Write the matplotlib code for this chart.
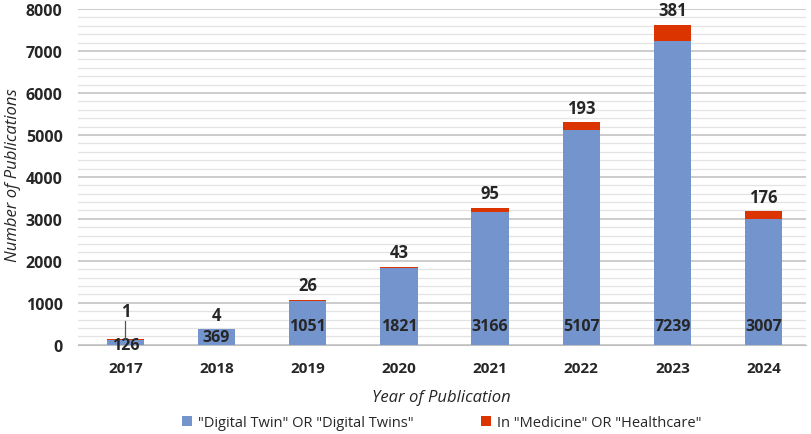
import matplotlib

matplotlib.use("Agg")
import matplotlib.pyplot as plt
from matplotlib.ticker import MultipleLocator

years = ["2017", "2018", "2019", "2020", "2021", "2022", "2023", "2024"]
digital_twin = [126, 369, 1051, 1821, 3166, 5107, 7239, 3007]
medicine = [1, 4, 26, 43, 95, 193, 381, 176]

BLUE = "#7494CD"
RED = "#DB3400"
INK = "#262626"
FONT = ["Open Sans", "DejaVu Sans"]

plt.rcParams["font.family"] = FONT

fig = plt.figure(figsize=(8.12, 4.35), dpi=100)
ax = fig.add_axes([0.096, 0.205, 0.896, 0.772])

x = list(range(len(years)))
ax.bar(x, digital_twin, width=0.41, color=BLUE, zorder=3,
       label='"Digital Twin" OR "Digital Twins"')
ax.bar(x, medicine, width=0.41, bottom=digital_twin, color=RED, zorder=3,
       label='In "Medicine" OR "Healthcare"')

# value labels: base series inside the bar, top series above it
for i, (dt, med) in enumerate(zip(digital_twin, medicine)):
    ax.text(i, min(dt / 2, 450) if i else 0, str(dt), ha="center", va="center",
            fontsize=11.5, fontweight="bold", color=INK, zorder=4)
    top = dt + med
    if i == 0:
        # tiny bar: label lifted with a leader line
        ax.plot([i, i], [top + 20, 560], color="#555555", lw=0.9, zorder=4)
        ax.text(i, 810, str(med), ha="center", va="center", fontsize=12,
                fontweight="bold", color=INK)
    else:
        ax.annotate(str(med), (i, top), xytext=(0, 4), textcoords="offset points",
                    ha="center", va="bottom", fontsize=12, fontweight="bold",
                    color=INK)

ax.set_xlim(-0.52, 7.46)
ax.set_ylim(0, 8000)
ax.yaxis.set_major_locator(MultipleLocator(1000))
ax.yaxis.set_minor_locator(MultipleLocator(200))
ax.grid(axis="y", which="major", color="#BFBFBF", lw=1.1, zorder=0)
ax.grid(axis="y", which="minor", color="#E3E3E3", lw=0.9, zorder=0)

ax.set_xticks(x)
ax.set_xticklabels(years, fontweight="bold", fontsize=11, color=INK)
for lbl in ax.get_yticklabels():
    lbl.set_fontweight("bold")
    lbl.set_fontsize(11.5)
    lbl.set_color(INK)
ax.tick_params(axis="both", which="both", length=0)
ax.tick_params(axis="x", pad=12)
ax.tick_params(axis="y", pad=11)

for side in ("top", "right", "left"):
    ax.spines[side].set_visible(False)
ax.spines["bottom"].set_color("#BFBFBF")

ax.set_xlabel("Year of Publication", fontstyle="italic", fontsize=12, color=INK)
ax.xaxis.set_label_coords(0.5, -0.155)
ax.xaxis.label.set_va("center")
ax.set_ylabel("Number of Publications", fontstyle="italic", fontsize=12, color=INK)
ax.yaxis.set_label_coords(-0.089, 0.509)
ax.yaxis.label.set_va("center")

ax.legend(loc="center", bbox_to_anchor=(0.5, -0.232), ncol=2, frameon=False,
          fontsize=10.5, handlelength=0.7, handleheight=0.7, handletextpad=0.4,
          columnspacing=4.6, labelcolor=INK)

fig.savefig("out.png", dpi=100)
